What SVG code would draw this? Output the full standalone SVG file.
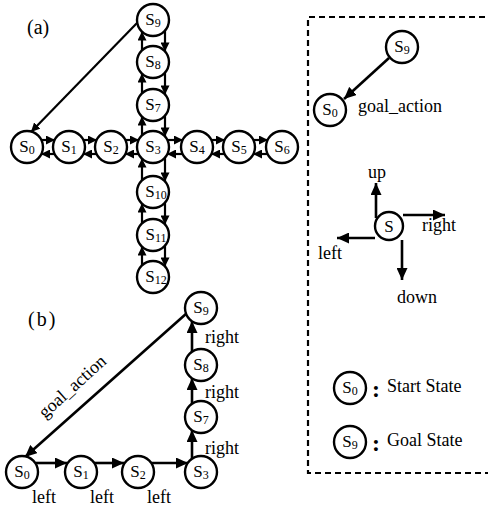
<svg xmlns="http://www.w3.org/2000/svg" width="488" height="508" viewBox="0 0 488 508">
<style>
.n circle{fill:#fff;stroke:#000;stroke-width:2.4}
text{font-family:"Liberation Serif","Times New Roman",serif;fill:#000}
.n text{font-size:17px;text-anchor:middle}
.sub{font-size:12px}
.lbl{font-size:18px}
.c line{stroke:#000;stroke-width:2.2}
.s line{marker-end:url(#as)}
.b line{marker-end:url(#ab);stroke-width:2.6}
</style>
<defs>
<marker id="as" markerUnits="userSpaceOnUse" markerWidth="10" markerHeight="9" refX="9" refY="4.5" orient="auto"><path d="M0,0 L9,4.5 L0,9 z" fill="#000"/></marker>
<marker id="ab" markerUnits="userSpaceOnUse" markerWidth="13" markerHeight="11" refX="12" refY="5.5" orient="auto"><path d="M0,0 L12,5.5 L0,11 z" fill="#000"/></marker>
</defs>
<rect x="0" y="0" width="488" height="508" fill="#fff"/>
<text class="lbl" x="27" y="34" style="font-size:20px">(a)</text>
<text class="lbl" x="28" y="326" style="font-size:20px;letter-spacing:2px">(b)</text>
<path d="M495,17 H308 V473 H495" fill="none" stroke="#000" stroke-width="2.2" stroke-dasharray="6,4"/>

<g id="connectors" class="c">
<g class="s">
<line x1="137" y1="23" x2="31" y2="132"/>
<line x1="41.4" y1="140" x2="55" y2="140"/><line x1="54.6" y1="154" x2="41" y2="154"/>
<line x1="83.4" y1="140" x2="97" y2="140"/><line x1="96.6" y1="154" x2="83" y2="154"/>
<line x1="125.4" y1="140" x2="139" y2="140"/><line x1="138.6" y1="154" x2="125" y2="154"/>
<line x1="167.4" y1="140" x2="183" y2="140"/><line x1="182.6" y1="154" x2="167" y2="154"/>
<line x1="211.4" y1="140" x2="225" y2="140"/><line x1="224.6" y1="154" x2="211" y2="154"/>
<line x1="253.4" y1="140" x2="268" y2="140"/><line x1="267.6" y1="154" x2="253" y2="154"/>
<line x1="142" y1="50.4" x2="142" y2="31.6"/><line x1="165" y1="30.6" x2="165" y2="51.4"/>
<line x1="142" y1="93.4" x2="142" y2="73.6"/><line x1="165" y1="72.6" x2="165" y2="94.4"/>
<line x1="142" y1="135.4" x2="142" y2="116.6"/><line x1="165" y1="115.6" x2="165" y2="136.4"/>
<line x1="142" y1="180.4" x2="142" y2="158.6"/><line x1="165" y1="157.6" x2="165" y2="181.4"/>
<line x1="142" y1="223.4" x2="142" y2="203.6"/><line x1="165" y1="202.6" x2="165" y2="224.4"/>
<line x1="142" y1="265.4" x2="142" y2="246.6"/><line x1="165" y1="245.6" x2="165" y2="266.4"/>
</g>
<g class="b">
<line x1="187" y1="313" x2="25" y2="457"/>
<line x1="36" y1="463" x2="67" y2="463"/>
<line x1="94" y1="463" x2="124" y2="463"/>
<line x1="151" y1="463" x2="188" y2="463"/>
<line x1="192" y1="459" x2="192" y2="430"/>
<line x1="192" y1="404" x2="192" y2="378"/>
<line x1="192" y1="352" x2="192" y2="321"/>
<line x1="389" y1="58" x2="344" y2="99"/>
<line x1="376" y1="218" x2="376" y2="183"/>
<line x1="403" y1="215" x2="445" y2="215"/>
<line x1="375" y1="238" x2="337" y2="238"/>
<line x1="402" y1="240" x2="402" y2="280"/>
</g>
</g>

<g id="a_s0" class="n"><circle cx="27" cy="147" r="16"/><text x="27" y="152">S<tspan class="sub" dy="2">0</tspan></text></g>
<g id="a_s1" class="n"><circle cx="69" cy="147" r="16"/><text x="69" y="152">S<tspan class="sub" dy="2">1</tspan></text></g>
<g id="a_s2" class="n"><circle cx="111" cy="147" r="16"/><text x="111" y="152">S<tspan class="sub" dy="2">2</tspan></text></g>
<g id="a_s3" class="n"><circle cx="153" cy="147" r="16"/><text x="153" y="152">S<tspan class="sub" dy="2">3</tspan></text></g>
<g id="a_s4" class="n"><circle cx="197" cy="147" r="16"/><text x="197" y="152">S<tspan class="sub" dy="2">4</tspan></text></g>
<g id="a_s5" class="n"><circle cx="239" cy="147" r="16"/><text x="239" y="152">S<tspan class="sub" dy="2">5</tspan></text></g>
<g id="a_s6" class="n"><circle cx="282" cy="147" r="16"/><text x="282" y="152">S<tspan class="sub" dy="2">6</tspan></text></g>
<g id="a_s7" class="n"><circle cx="153" cy="105" r="16"/><text x="153" y="110">S<tspan class="sub" dy="2">7</tspan></text></g>
<g id="a_s8" class="n"><circle cx="153" cy="62" r="16"/><text x="153" y="67">S<tspan class="sub" dy="2">8</tspan></text></g>
<g id="a_s9" class="n"><circle cx="153" cy="20" r="16"/><text x="153" y="25">S<tspan class="sub" dy="2">9</tspan></text></g>
<g id="a_s10" class="n"><circle cx="153" cy="192" r="16"/><text x="156" y="197">S<tspan class="sub" dy="2">10</tspan></text></g>
<g id="a_s11" class="n"><circle cx="153" cy="235" r="16"/><text x="156" y="240">S<tspan class="sub" dy="2">11</tspan></text></g>
<g id="a_s12" class="n"><circle cx="153" cy="277" r="16"/><text x="156" y="282">S<tspan class="sub" dy="2">12</tspan></text></g>

<g id="b_s0" class="n"><circle cx="22" cy="472" r="16"/><text x="22" y="477">S<tspan class="sub" dy="2">0</tspan></text></g>
<g id="b_s1" class="n"><circle cx="81" cy="472" r="16"/><text x="81" y="477">S<tspan class="sub" dy="2">1</tspan></text></g>
<g id="b_s2" class="n"><circle cx="138" cy="472" r="16"/><text x="138" y="477">S<tspan class="sub" dy="2">2</tspan></text></g>
<g id="b_s3" class="n"><circle cx="201" cy="472" r="16"/><text x="201" y="477">S<tspan class="sub" dy="2">3</tspan></text></g>
<g id="b_s7" class="n"><circle cx="201" cy="417" r="16"/><text x="201" y="422">S<tspan class="sub" dy="2">7</tspan></text></g>
<g id="b_s8" class="n"><circle cx="201" cy="365" r="16"/><text x="201" y="370">S<tspan class="sub" dy="2">8</tspan></text></g>
<g id="b_s9" class="n"><circle cx="201" cy="308" r="16"/><text x="201" y="313">S<tspan class="sub" dy="2">9</tspan></text></g>

<g id="b_labels">
<text class="lbl" transform="translate(45,419) rotate(-42)">goal_action</text>
<text class="lbl" x="205" y="343">right</text>
<text class="lbl" x="205" y="398">right</text>
<text class="lbl" x="205" y="454">right</text>
<text class="lbl" x="32" y="503">left</text>
<text class="lbl" x="90" y="503">left</text>
<text class="lbl" x="147" y="503">left</text>
</g>

<g id="legend">
<g id="l_s9" class="n"><circle cx="402" cy="47" r="16"/><text x="402" y="52">S<tspan class="sub" dy="2">9</tspan></text></g>
<g id="l_s0" class="n"><circle cx="330" cy="110" r="16"/><text x="330" y="115">S<tspan class="sub" dy="2">0</tspan></text></g>
<text class="lbl" x="358" y="112">goal_action</text>
<g id="l_s" class="n"><circle cx="389" cy="226" r="14"/><text x="389" y="232">S</text></g>
<text class="lbl" x="368" y="178">up</text>
<text class="lbl" x="422" y="231">right</text>
<text class="lbl" x="318" y="259">left</text>
<text class="lbl" x="397" y="303">down</text>
<g id="l_start" class="n"><circle cx="350" cy="388" r="16"/><text x="350" y="393">S<tspan class="sub" dy="2">0</tspan></text></g>
<text x="372" y="397" style="font-size:24px;font-weight:bold">:</text>
<text class="lbl" x="387" y="392">Start State</text>
<g id="l_goal" class="n"><circle cx="350" cy="442" r="16"/><text x="350" y="447">S<tspan class="sub" dy="2">9</tspan></text></g>
<text x="372" y="451" style="font-size:24px;font-weight:bold">:</text>
<text class="lbl" x="387" y="446">Goal State</text>
</g>
</svg>
